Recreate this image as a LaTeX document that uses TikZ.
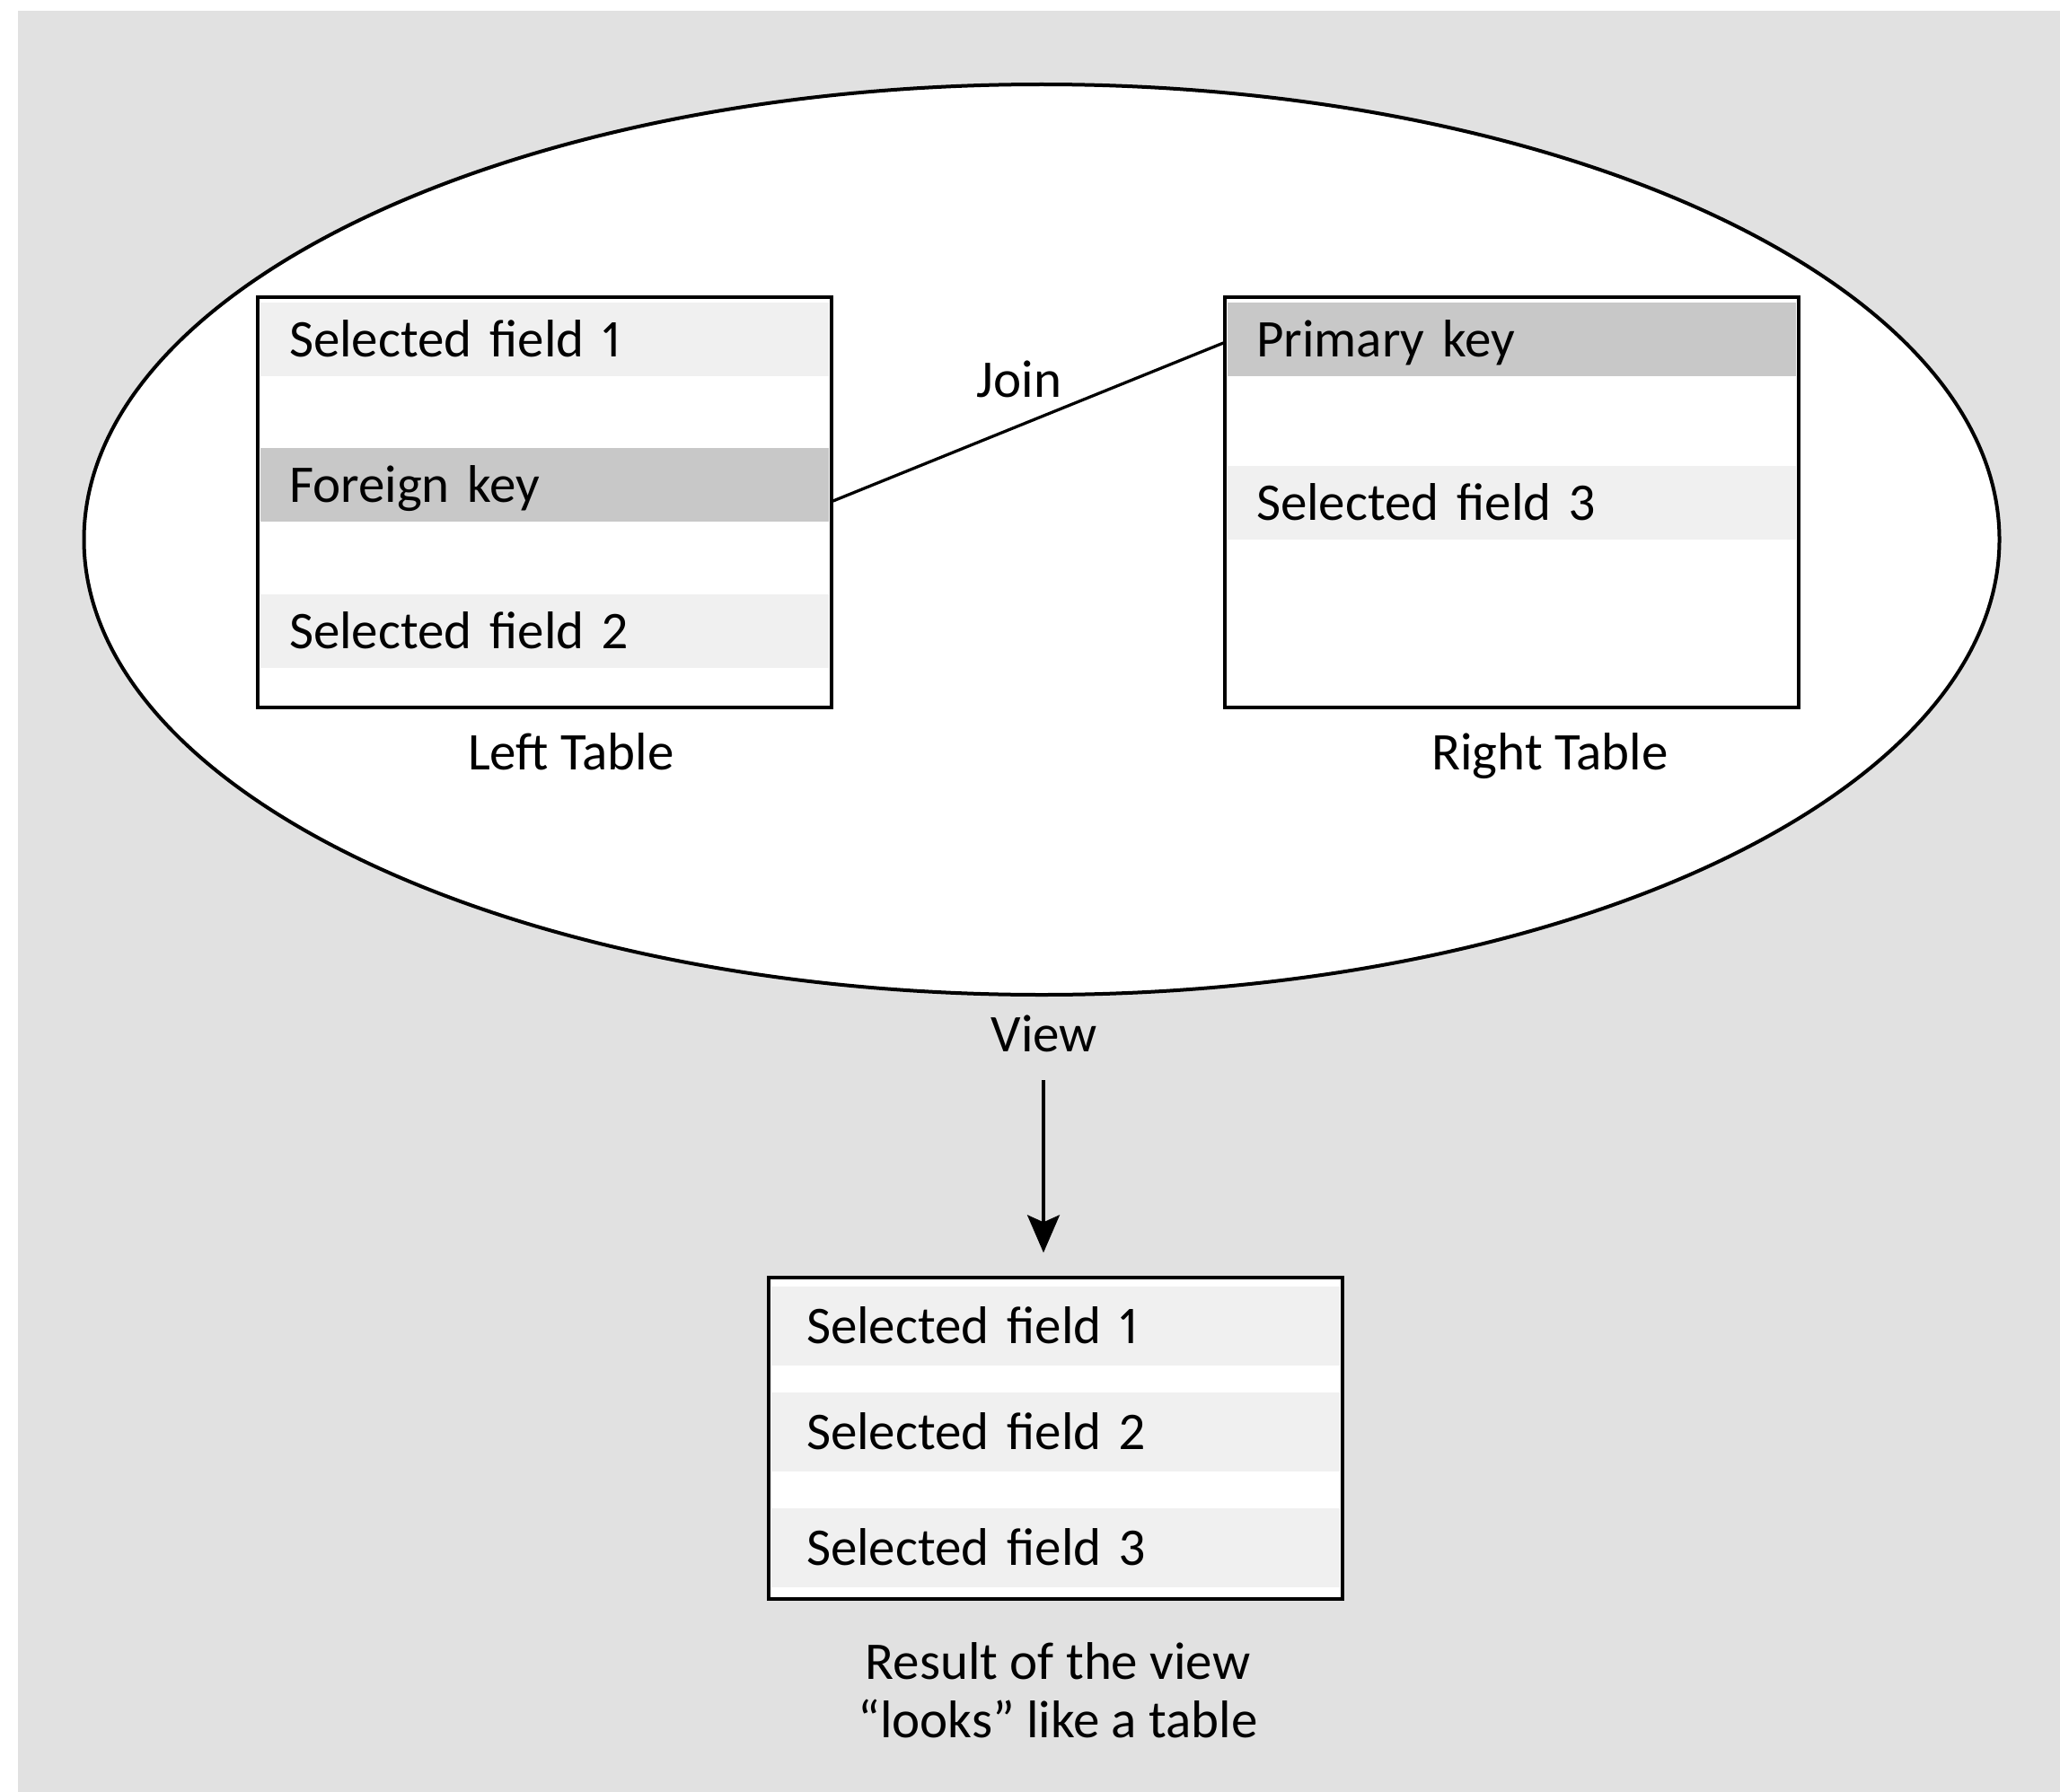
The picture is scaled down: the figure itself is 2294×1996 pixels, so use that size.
\documentclass[tikz,border=0pt]{standalone}
\usepackage{fontspec}
\setmainfont{Carlito}[Numbers=Proportional]
\usetikzlibrary{shapes.geometric,arrows.meta,calc}
\definecolor{pagegray}{HTML}{E1E1E1}
\definecolor{rowlight}{HTML}{F0F0F0}
\definecolor{rowdark}{HTML}{C8C8C8}
\begin{document}
\begin{tikzpicture}[x=1pt,y=-1pt,
  every node/.style={inner sep=0pt, font=\fontsize{59}{64}\selectfont,
    text height=38pt, text depth=0pt},
  outline/.style={draw=black, line width=3.4pt},
  tablebox/.style={outline, fill=white, minimum width=639pt},
  rowtext/.style={text width=#1, align=left, minimum height=82pt},
  toprow/.style={rowtext=569pt, inner xsep=32pt},
  viewrow/.style={rowtext=555pt, inner xsep=39pt, minimum height=88pt},
  connector/.style={draw=black, line width=3.3pt},
  caption/.style={anchor=center}
]
% page and backdrop
\fill[white] (0,0) rectangle (2294,1996);
\fill[pagegray] (20,12) rectangle (2294,1996);
\useasboundingbox (0,0) rectangle (2294,1996);

% the scope of the view
\node[ellipse, draw=black, line width=4pt, fill=white,
  minimum width=2133pt, minimum height=1014pt] (scopeel) at (1160,601) {};

% left table
\node[tablebox, minimum height=457pt] (lt) at (606.5,559.5) {};
\node[toprow, fill=rowlight] (lf1) at (606.5,378) {Selected field 1};
\node[toprow, fill=rowdark]  (fk)  at (606.5,540) {Foreign key};
\node[toprow, fill=rowlight] (lf2) at (606.5,703) {Selected field 2};
\node[caption] (ltlabel) at (636,838) {Left Table};

% right table
\node[tablebox, minimum height=457pt] (rt) at (1683.5,559.5) {};
\node[toprow, fill=rowdark]  (pk)  at (1683.5,378) {Primary key};
\node[toprow, fill=rowlight] (rf3) at (1683.5,560) {Selected field 3};
\node[caption] (rtlabel) at (1726,838) {Right Table};

% join between foreign key and primary key
\draw[connector] ($(fk.east -| lt.east)+(0pt,-18pt)$) -- ($(pk.west -| rt.west)+(0pt,-4pt)$);
\node[caption] (joinlabel) at (1135,423) {Join};

% resulting view
\node[caption] (view) at (1163,1152) {View};
\node[tablebox, minimum height=358pt] (res) at (1175.5,1602) {};
\node[viewrow, fill=rowlight] (v1) at (1175.5,1477) {Selected field 1};
\node[viewrow, fill=rowlight] (v2) at (1175.5,1595) {Selected field 2};
\node[viewrow, fill=rowlight] (v3) at (1175.5,1724) {Selected field 3};
\node[caption] (res1) at (1178,1851) {Result of the view};
\node[caption] (res2) at (1178,1916) {“looks” like a table};

\draw[connector, -{Stealth[length=42pt, width=36pt, inset=8pt]},
  shorten <=32pt, shorten >=26pt]
  ($(view.south)+(-1pt,0pt)$) -- ($(view.south |- res.north)+(-1pt,0pt)$);
\end{tikzpicture}
\end{document}
